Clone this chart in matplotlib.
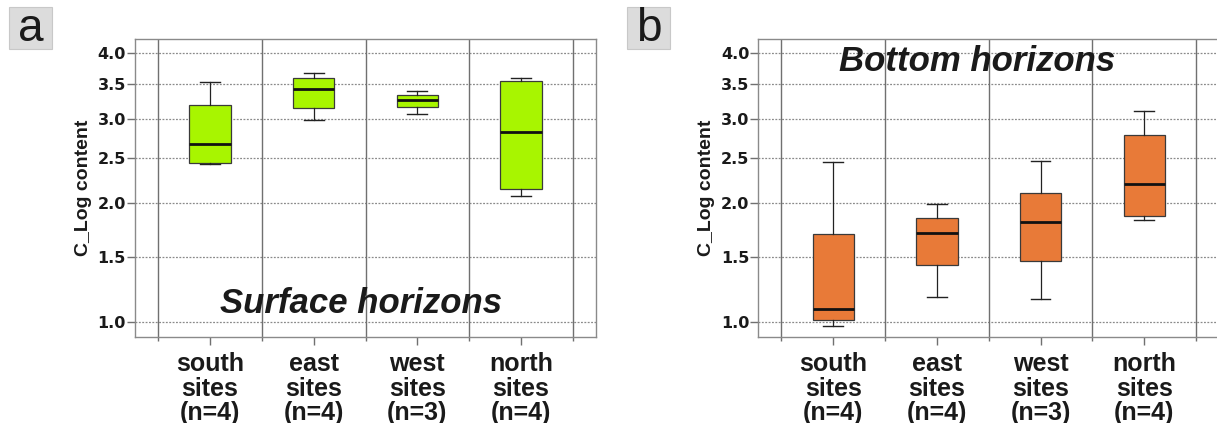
import numpy as np
import matplotlib
matplotlib.use("Agg")
import matplotlib.pyplot as plt
from matplotlib.patches import Rectangle

plt.rcParams['font.family'] = ['Liberation Sans', 'DejaVu Sans']

categories = ["south\nsites\n(n=4)", "east\nsites\n(n=4)", "west\nsites\n(n=3)", "north\nsites\n(n=4)"]

# five-number summaries: lower whisker, Q1, median, Q3, upper whisker
surface_whislo = [2.43, 2.98, 3.07, 2.07]
surface_q1     = [2.44, 3.15, 3.16, 2.15]
surface_med    = [2.67, 3.42, 3.27, 2.82]
surface_q3     = [3.19, 3.59, 3.34, 3.55]
surface_whishi = [3.53, 3.68, 3.40, 3.60]

bottom_whislo = [0.97, 1.18, 1.16, 1.83]
bottom_q1     = [1.01, 1.43, 1.46, 1.87]
bottom_med    = [1.09, 1.71, 1.81, 2.20]
bottom_q3     = [1.70, 1.85, 2.11, 2.79]
bottom_whishi = [2.45, 1.99, 2.46, 3.10]

y_ticks = [1.0, 1.5, 2.0, 2.5, 3.0, 3.5, 4.0]


def fwd(v):
    return np.log(np.asarray(v, dtype=float) + 1.0)


def inv(u):
    return np.exp(np.asarray(u, dtype=float)) - 1.0


def make_stats(lo, q1, med, q3, hi):
    return [dict(whislo=a, q1=b, med=c, q3=d, whishi=e, fliers=[])
            for a, b, c, d, e in zip(lo, q1, med, q3, hi)]


W, H = 1217, 423
fig = plt.figure(figsize=(W / 100, H / 100), dpi=100)


def panel(left_px, stats, face, title, tx, ty):
    ax = fig.add_axes([left_px / W, (H - 337) / H, 461 / W, 298 / H])
    ax.set_yscale('function', functions=(fwd, inv))
    ax.set_ylim(0.9, 4.25)
    ax.set_xlim(-0.723, 3.723)
    pos = np.arange(len(categories))
    ax.bxp(stats, positions=pos, widths=0.4, capwidths=0.19, patch_artist=True,
           showfliers=False,
           boxprops=dict(facecolor=face, edgecolor='#3a3a3a', linewidth=0.9),
           medianprops=dict(color='#111111', linewidth=2.0),
           whiskerprops=dict(color='#222222', linewidth=0.9),
           capprops=dict(color='#222222', linewidth=1.0),
           zorder=3)
    # horizontal dotted grid
    for v in y_ticks:
        ax.axhline(v, color='#8a8a8a', linewidth=0.9, linestyle=(0, (1.5, 1.2)), zorder=1)
    # vertical separators between groups
    seps = np.arange(-0.5, len(categories), 1.0)
    for s in seps:
        ax.axvline(s, color='#707070', linewidth=1.0, zorder=1)
    ax.set_xticks(pos)
    ax.set_xticklabels(categories, fontsize=18, fontweight='bold', linespacing=1.03,
                       color='#1a1a1a')
    ax.set_xticks(seps, minor=True)
    ax.tick_params(axis='x', which='major', length=6, width=1, color='#707070', pad=5)
    ax.tick_params(axis='x', which='minor', length=3, width=1, color='#707070')
    ax.set_yticks(y_ticks)
    ax.set_yticks([], minor=True)
    ax.set_yticklabels([f"{v:.1f}" for v in y_ticks], fontsize=11.5, fontweight='bold',
                       family='DejaVu Sans', color='#1a1a1a')
    ax.tick_params(axis='y', which='major', length=6, width=1, color='#707070', pad=0.5)
    ax.set_ylabel("C_Log content", fontsize=14, fontweight='bold', labelpad=4,
                  color='#1a1a1a')
    for sp in ax.spines.values():
        sp.set_color('#8a8a8a')
        sp.set_linewidth(1.0)
    ax.text(tx, ty, title, transform=ax.transAxes, ha='center', va='baseline',
            fontsize=25, fontweight='bold', fontstyle='italic', color='#1a1a1a', zorder=4)
    return ax


panel(135, make_stats(surface_whislo, surface_q1, surface_med, surface_q3, surface_whishi),
      '#a8f500', "Surface horizons", 0.490, 0.080)
panel(758.3, make_stats(bottom_whislo, bottom_q1, bottom_med, bottom_q3, bottom_whishi),
      '#e87a38', "Bottom horizons", 0.475, 0.893)

# panel letters in grey boxes
for x0, letter in [(9, 'a'), (627, 'b')]:
    fig.patches.append(Rectangle((x0 / W, 1 - 49 / H), 43 / W, 42 / H,
                                 transform=fig.transFigure, facecolor='#dcdcdc',
                                 edgecolor='#c8c8c8', linewidth=0.8))
    fig.text((x0 + 21.5) / W, 1 - 29 / H, letter, ha='center', va='center',
             fontsize=33, color='#1a1a1a')

fig.savefig("out.png", dpi=100)
